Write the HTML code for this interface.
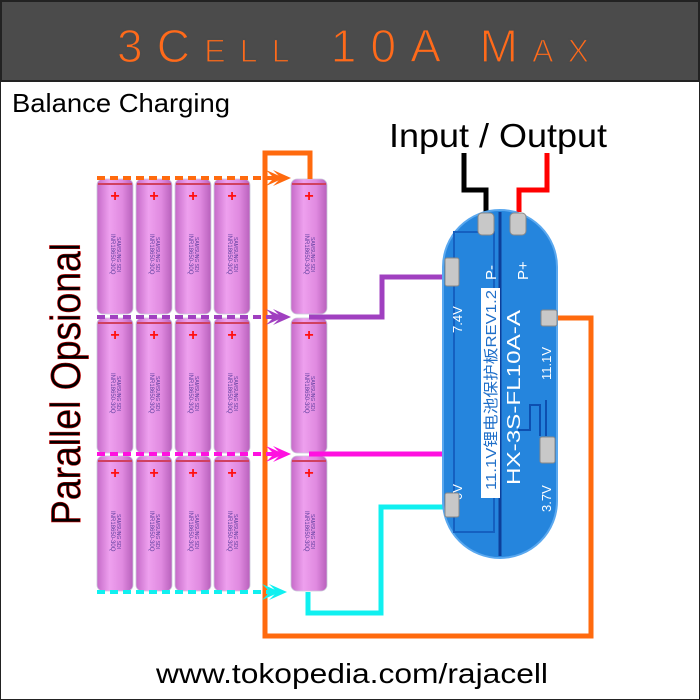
<!DOCTYPE html>
<html><head><meta charset="utf-8"><style>
html,body{margin:0;padding:0;background:#fff}
svg{display:block}
text{font-family:"Liberation Sans",sans-serif}
</style></head><body>
<svg width="700" height="700" viewBox="0 0 700 700" xmlns="http://www.w3.org/2000/svg">
<defs>
<linearGradient id="bat" x1="0" x2="1" y1="0" y2="0">
<stop offset="0" stop-color="#c56ac8"/><stop offset="0.35" stop-color="#eea0ee"/><stop offset="0.7" stop-color="#e08ae0"/><stop offset="1" stop-color="#b860bc"/>
</linearGradient>
<g id="cell">
<rect x="0" y="0" width="36" height="135" rx="6" fill="url(#bat)" stroke="#c9c9d9" stroke-width="0.8"/>
<rect x="1" y="4" width="34" height="2" fill="#d04060"/>
<text x="18" y="22" font-size="16" fill="#ff1010" text-anchor="middle" font-weight="bold">+</text>
<text transform="translate(14,55) rotate(90)" font-size="6" fill="#6040a0">INR18650-30Q</text>
<text transform="translate(20,58) rotate(90)" font-size="5" fill="#6040a0">SAMSUNG SDI</text>
</g>
</defs>
<rect x="0.5" y="0.5" width="699" height="699" fill="#fff" stroke="#222"/>
<rect x="1" y="1" width="698" height="80" fill="#4b4b4b" stroke="#222" stroke-width="2"/>
<text x="117" y="62" font-size="46" fill="#ff6a1a" stroke="#4b4b4b" stroke-width="1.2" textLength="472" lengthAdjust="spacing" style="font-variant:small-caps">3Cell 10A Max</text>
<text x="12" y="112" font-size="26" fill="#000" textLength="218" lengthAdjust="spacingAndGlyphs">Balance Charging</text>
<text x="498" y="147" font-size="33" fill="#000" text-anchor="middle" textLength="218" lengthAdjust="spacingAndGlyphs">Input / Output</text>
<text transform="translate(80,525) rotate(-90)" font-size="42" fill="#000" stroke="#c00" stroke-width="0.6" textLength="282" lengthAdjust="spacingAndGlyphs">Parallel Opsional</text>

<g>
<use href="#cell" x="97" y="179"/><use href="#cell" x="136" y="179"/><use href="#cell" x="175" y="179"/><use href="#cell" x="214" y="179"/><use href="#cell" x="291" y="179"/>
<use href="#cell" x="97" y="318"/><use href="#cell" x="136" y="318"/><use href="#cell" x="175" y="318"/><use href="#cell" x="214" y="318"/><use href="#cell" x="291" y="318"/>
<use href="#cell" x="97" y="456"/><use href="#cell" x="136" y="456"/><use href="#cell" x="175" y="456"/><use href="#cell" x="214" y="456"/><use href="#cell" x="291" y="456"/>
</g>

<g fill="none" stroke-width="5">
<polyline stroke="#ff6a0e" points="553,318 591,318 591,636 265,636 265,153 310,153 310,179"/>
<polyline stroke="#a040c0" points="309,317 382,317 382,277 452,277"/>
<polyline stroke="#ff10e0" points="309,454 548,454"/>
<polyline stroke="#10f0f0" points="308,592 308,613 381,613 381,507 451,507"/>
<polyline stroke="#000" points="464,153 464,190 486,190 486,212"/>
<polyline stroke="#ff0000" points="547,153 547,190 519,190 519,212"/>
</g>
<g fill="none" stroke-width="4" stroke-dasharray="8,5">
<line x1="97" y1="178" x2="282" y2="178" stroke="#ff6a0e"/>
<line x1="97" y1="317" x2="282" y2="317" stroke="#a040c0"/>
<line x1="97" y1="454" x2="282" y2="454" stroke="#ff10e0"/>
<line x1="97" y1="592" x2="278" y2="592" stroke="#10f0f0"/>
</g>
<g>
<path d="M273,170 L291,178 L273,186 L281,178z M266,170 L284,178 L266,186 L274,178z" fill="#ff6a0e"/>
<path d="M273,309 L291,317 L273,325 L281,317z M266,309 L284,317 L266,325 L274,317z" fill="#a040c0"/>
<path d="M273,446 L291,454 L273,462 L281,454z M266,446 L284,454 L266,462 L274,454z" fill="#ff10e0"/>
<path d="M269,584 L287,592 L269,600 L277,592z M262,584 L280,592 L262,600 L270,592z" fill="#10f0f0"/>
</g>

<rect x="443" y="210" width="114" height="348" rx="57" fill="#2585dd" stroke="#5aa8ef" stroke-width="2"/>
<line x1="500" y1="212" x2="500" y2="556" stroke="#0d3f9a" stroke-width="3"/>
<rect x="454" y="232" width="40" height="300" fill="none" stroke="#1560c0" stroke-width="2"/>
<rect x="481" y="288" width="19" height="210" fill="#fff"/>
<text transform="translate(496,490) rotate(-90)" font-size="15" fill="#1f6fc9" font-family="Liberation Sans, Noto Sans CJK SC, sans-serif" textLength="200" lengthAdjust="spacingAndGlyphs">11.1V锂电池保护板REV1.2</text>
<text transform="translate(520,485) rotate(-90)" font-size="18" fill="#fff" textLength="175" lengthAdjust="spacingAndGlyphs">HX-3S-FL10A-A</text>
<text transform="translate(496,280) rotate(-90)" font-size="15" fill="#fff">P-</text>
<text transform="translate(528,280) rotate(-90)" font-size="15" fill="#fff">P+</text>
<text transform="translate(462,333) rotate(-90)" font-size="13" fill="#fff">7.4V</text>
<text transform="translate(551,380) rotate(-90)" font-size="13" fill="#fff">11.1V</text>
<text transform="translate(551,512) rotate(-90)" font-size="13" fill="#fff">3.7V</text>
<text transform="translate(462,500) rotate(-90)" font-size="13" fill="#fff">0V</text>
<g fill="#c8c8c8" stroke="#888" stroke-width="1">
<rect x="478" y="213" width="16" height="22" rx="4"/><rect x="510" y="213" width="16" height="22" rx="4"/>
<rect x="445" y="258" width="14" height="28" rx="2"/>
<rect x="541" y="310" width="16" height="16" rx="2"/>
<rect x="540" y="437" width="15" height="26" rx="2"/>
<rect x="445" y="493" width="14" height="24" rx="2"/>
</g>
<path d="M546,436 V400 M540,436 V405 H530 V430 H518" stroke="#0d4fb0" stroke-width="2" fill="none"/>

<text x="352" y="683" font-size="28" fill="#000" text-anchor="middle" textLength="392" lengthAdjust="spacingAndGlyphs">www.tokopedia.com/rajacell</text>
</svg>
</body></html>
